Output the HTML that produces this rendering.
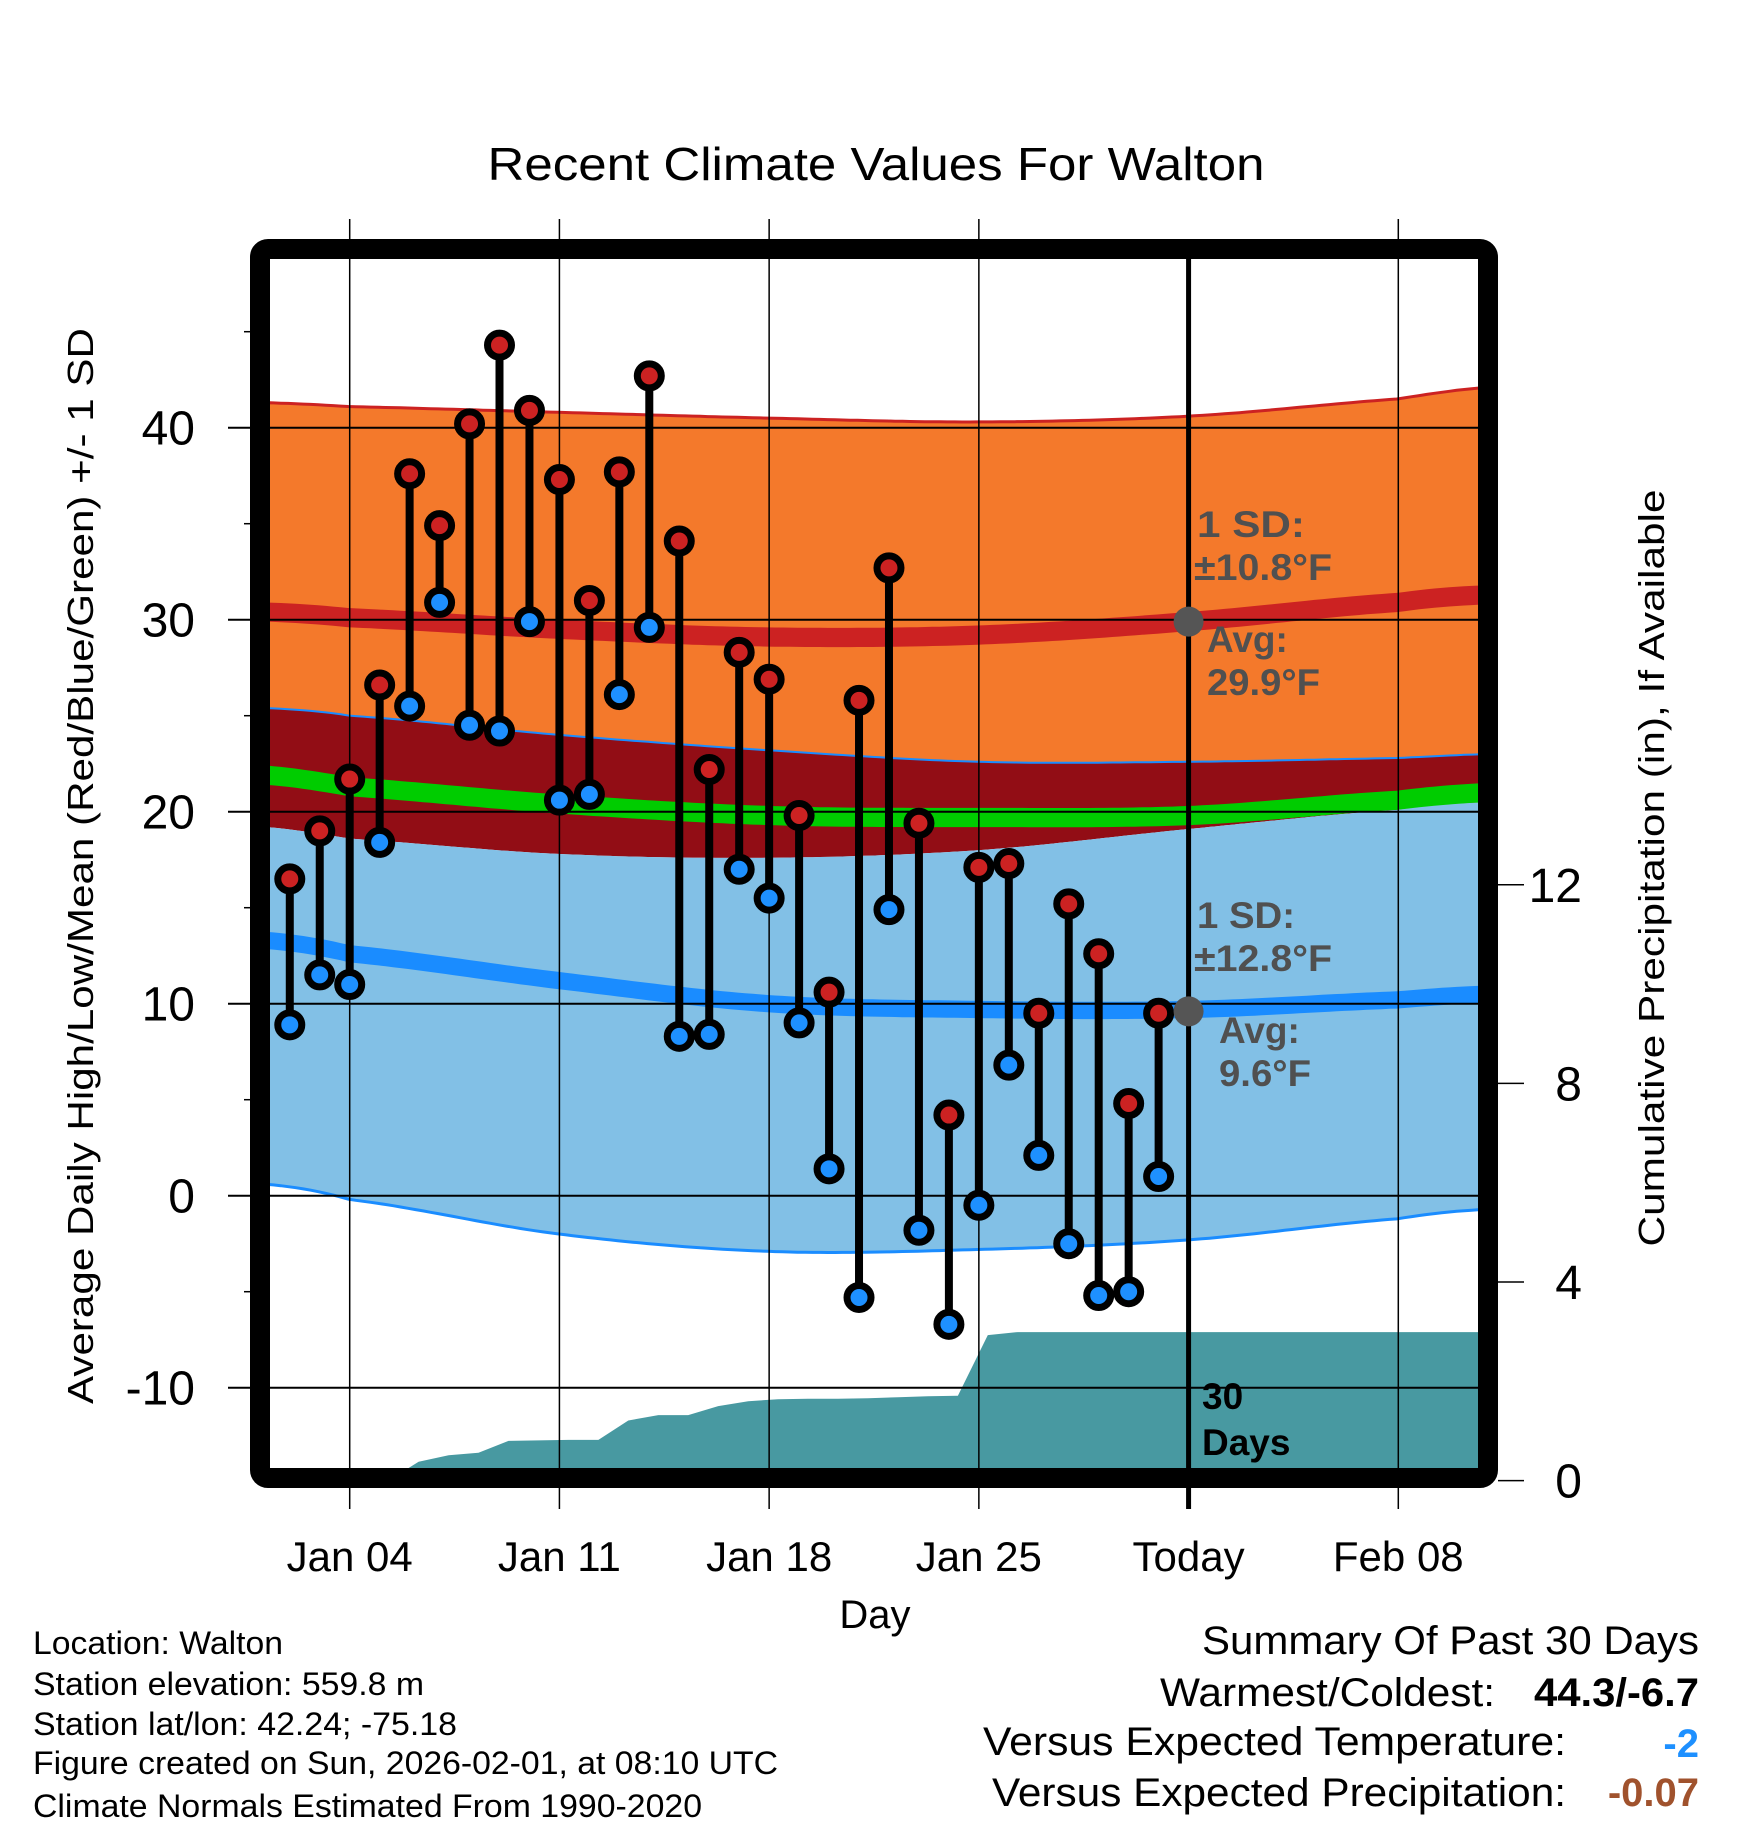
<!DOCTYPE html>
<html><head><meta charset="utf-8"><style>
html,body{margin:0;padding:0;background:#fff;}
svg{display:block;font-family:"Liberation Sans",Arial,sans-serif;}
</style></head><body>
<svg id="chart" width="1748" height="1828" viewBox="0 0 1748 1828" xmlns="http://www.w3.org/2000/svg">
<defs><clipPath id="plotclip"><rect x="270" y="259" width="1208" height="1209"/></clipPath></defs>
<g id="bands" clip-path="url(#plotclip)"></g>
<g id="precip" clip-path="url(#plotclip)"></g>
<g id="grid"></g>
<g id="series"></g>
<rect x="260" y="249" width="1228" height="1229" rx="8" fill="none" stroke="#000" stroke-width="20"/>
<g id="axes"></g>

<text x="876" y="180" font-size="46" text-anchor="middle" textLength="777" lengthAdjust="spacingAndGlyphs">Recent Climate Values For Walton</text>
<text transform="translate(93,866) rotate(-90)" font-size="36" text-anchor="middle" textLength="1076" lengthAdjust="spacingAndGlyphs">Average Daily High/Low/Mean (Red/Blue/Green) +/- 1 SD</text>
<text transform="translate(1664,868) rotate(-90)" font-size="36" text-anchor="middle" textLength="757" lengthAdjust="spacingAndGlyphs">Cumulative Precipitation (in), If Available</text>
<text x="875" y="1628" font-size="40" text-anchor="middle">Day</text>

<g font-size="37" font-weight="bold" fill="#505050">
<text x="1197" y="537" textLength="108" lengthAdjust="spacingAndGlyphs">1 SD:</text>
<text x="1194" y="580" textLength="138" lengthAdjust="spacingAndGlyphs">±10.8°F</text>
<text x="1207" y="652">Avg:</text>
<text x="1207" y="695" textLength="113" lengthAdjust="spacingAndGlyphs">29.9°F</text>
</g>
<g font-size="37" font-weight="bold" fill="#505050">
<text x="1197" y="928" textLength="98" lengthAdjust="spacingAndGlyphs">1 SD:</text>
<text x="1194" y="971" textLength="138" lengthAdjust="spacingAndGlyphs">±12.8°F</text>
<text x="1219" y="1043">Avg:</text>
<text x="1219" y="1086" textLength="92" lengthAdjust="spacingAndGlyphs">9.6°F</text>
</g>
<g font-size="37" font-weight="bold" fill="#000">
<text x="1202" y="1409">30</text>
<text x="1202" y="1455">Days</text>
</g>

<g font-size="32" fill="#000">
<text x="33" y="1654" textLength="250" lengthAdjust="spacingAndGlyphs">Location: Walton</text>
<text x="33" y="1695" textLength="391" lengthAdjust="spacingAndGlyphs">Station elevation: 559.8 m</text>
<text x="33" y="1735" textLength="424" lengthAdjust="spacingAndGlyphs">Station lat/lon: 42.24; -75.18</text>
<text x="33" y="1774" textLength="745" lengthAdjust="spacingAndGlyphs">Figure created on Sun, 2026-02-01, at 08:10 UTC</text>
<text x="33" y="1817" textLength="669" lengthAdjust="spacingAndGlyphs">Climate Normals Estimated From 1990-2020</text>
</g>
<g font-size="40" fill="#000">
<text x="1699" y="1654" text-anchor="end" textLength="497" lengthAdjust="spacingAndGlyphs">Summary Of Past 30 Days</text>
<text x="1495" y="1706" text-anchor="end" textLength="335" lengthAdjust="spacingAndGlyphs">Warmest/Coldest:</text>
<text x="1699" y="1706" text-anchor="end" font-weight="bold" textLength="165" lengthAdjust="spacingAndGlyphs">44.3/-6.7</text>
<text x="1566" y="1755" text-anchor="end" textLength="583" lengthAdjust="spacingAndGlyphs">Versus Expected Temperature:</text>
<text x="1699" y="1757" text-anchor="end" font-weight="bold" fill="#1e90ff">-2</text>
<text x="1566" y="1806" text-anchor="end" textLength="574" lengthAdjust="spacingAndGlyphs">Versus Expected Precipitation:</text>
<text x="1699" y="1806" text-anchor="end" font-weight="bold" fill="#a0522d">-0.07</text>
</g>
</svg>
<script>
// ---- data ----
const dayNums = [2,3,4,5,6,7,8,9,10,11,12,13,14,15,16,17,18,19,20,21,22,23,24,25,26,27,28,29,30,31];
const highs = [16.5,19.0,21.7,26.6,37.6,34.9,40.2,44.3,40.9,37.3,31.0,37.7,42.7,34.1,22.2,28.3,26.9,19.8,10.6,25.8,32.7,19.4,4.2,17.1,17.3,9.5,15.2,12.6,4.8,9.5];
const lows = [8.9,11.5,11.0,18.4,25.5,30.9,24.5,24.2,29.9,20.6,20.9,26.1,29.6,8.3,8.4,17.0,15.5,9.0,1.4,-5.3,14.9,-1.8,-6.7,-0.5,6.8,2.1,-2.5,-5.2,-5.0,1.0];
const precipCum = [0,0,0,0,0.38,0.51,0.56,0.80,0.81,0.82,0.82,1.21,1.32,1.32,1.50,1.60,1.64,1.65,1.65,1.66,1.68,1.70,1.71,2.93,2.99,2.99,2.99,2.99,2.99,2.99];
const normDays = [1.2,4,11,18,25,32,39,42];
const normHiUpper = [41.3,41.1,40.8,40.5,40.3,40.6,41.5,42.1];
const normHiAvg = [30.4,30.1,29.5,29.1,29.2,29.9,30.9,31.3];
const normHiLower = [25.4,25.0,24.0,23.2,22.6,22.6,22.8,23.0];
const normMean = [21.9,21.3,20.4,19.8,19.7,19.8,20.6,21.0];
const normLoUpper = [19.2,18.6,17.8,17.6,18.0,19.1,20.1,20.5];
const normLoAvg = [13.3,12.6,11.2,10.0,9.7,9.7,10.2,10.5];
const normLoLower = [0.6,-0.2,-2.0,-2.9,-2.8,-2.3,-1.2,-0.7];
const xTickDays = [4,11,18,25,32,39];
const xTickLabels = ["Jan 04","Jan 11","Jan 18","Jan 25","Today","Feb 08"];
const yTicks = [-10,0,10,20,30,40];
const yMinorTicks = [-5,5,15,25,35,45];
const y2Ticks = [0,4,8,12];
const todayDay = 32;
const todayHiAvg = 29.9, todayLoAvg = 9.6;

// ---- scales ----
const X = d => 349.7 + (d - 4) * 29.96;
const Y = v => 427.7 + (40 - v) * 19.2;
const Y2 = p => 1480.6 - p * 49.65;
const NS = "http://www.w3.org/2000/svg";
function mk(tag, attrs, parent){const e=document.createElementNS(NS,tag);for(const k in attrs)e.setAttribute(k,attrs[k]);parent.appendChild(e);return e;}

function interp(xs, ys, x){ // catmull-rom
  let i=0; while(i<xs.length-2 && x>xs[i+1]) i++;
  const t=(x-xs[i])/(xs[i+1]-xs[i]);
  const p0=ys[Math.max(i-1,0)],p1=ys[i],p2=ys[i+1],p3=ys[Math.min(i+2,ys.length-1)];
  const t2=t*t,t3=t2*t;
  return 0.5*((2*p1)+(-p0+p2)*t+(2*p0-5*p1+4*p2-p3)*t2+(-p0+3*p1-3*p2+p3)*t3);
}
const samples=[]; for(let d=normDays[0]; d<=normDays[normDays.length-1]+0.001; d+=0.25) samples.push(d);
function curve(arr, off){return samples.map(d=>[X(d),Y(interp(normDays,arr,d)+(off||0))]);}
function bandPath(topPts, botPts){
  const pts=topPts.concat(botPts.slice().reverse());
  return "M"+pts.map(p=>p[0].toFixed(1)+","+p[1].toFixed(1)).join("L")+"Z";
}
function linePath(pts){return "M"+pts.map(p=>p[0].toFixed(1)+","+p[1].toFixed(1)).join("L");}

const bands=document.getElementById('bands');
let e;
e=mk('path',{d:bandPath(curve(normHiUpper),curve(normHiLower)),fill:'#f4792b'},bands);


e=mk('path',{d:bandPath(curve(normHiLower),curve(normLoUpper)),fill:'#920d15'},bands);


e=mk('path',{d:bandPath(curve(normLoUpper),curve(normLoLower)),fill:'#82c0e6'},bands);


e=mk('path',{d:bandPath(curve(normMean,0.5),curve(normMean,-0.5)),fill:'#00cc00'},bands);


e=mk('path',{d:bandPath(curve(normHiAvg,0.5),curve(normHiAvg,-0.5)),fill:'#cc2222'},bands);


e=mk('path',{d:bandPath(curve(normLoAvg,0.45),curve(normLoAvg,-0.45)),fill:'#1a8cff'},bands);


e=mk('path',{d:linePath(curve(normHiUpper)),fill:'none',stroke:'#cc2222','stroke-width':3},bands);


e=mk('path',{d:linePath(curve(normHiLower)),fill:'none',stroke:'#1a8cff','stroke-width':2},bands);


e=mk('path',{d:linePath(curve(normLoLower)),fill:'none',stroke:'#1a8cff','stroke-width':3},bands);



// precipitation
const pg=document.getElementById('precip');
let pts=[[X(1),Y2(0)]];
dayNums.forEach((d,i)=>pts.push([X(d+0.3),Y2(precipCum[i])]));
pts.push([X(43),Y2(precipCum[precipCum.length-1])]);
pts.push([X(43),Y2(-1)]); pts.push([X(1),Y2(-1)]);
e=mk('path',{d:"M"+pts.map(p=>p[0].toFixed(1)+","+p[1].toFixed(1)).join("L")+"Z",fill:'#4899a1'},pg);



// grid
const grid=document.getElementById('grid');
yTicks.forEach(v=>{
  e=mk('line',{x1:228,x2:1478,y1:Y(v),y2:Y(v),stroke:'#000','stroke-width':2},grid);
  
  
});
xTickDays.forEach(d=>{
  const isToday=d===todayDay;
  e=mk('line',{x1:X(d),x2:X(d),y1:isToday?259:219,y2:1509,stroke:'#000','stroke-width':isToday?5:1.5},grid);
  
  
});

// series
const sg=document.getElementById('series');
dayNums.forEach((d,i)=>{
  const x=X(d);
  e=mk('line',{x1:x,x2:x,y1:Y(highs[i]),y2:Y(lows[i]),stroke:'#000','stroke-width':8},sg);
  
  
});
dayNums.forEach((d,i)=>{
  const x=X(d);
  e=mk('circle',{cx:x,cy:Y(highs[i]),r:12,fill:'#cc2222',stroke:'#000','stroke-width':7},sg);
  
  
  e=mk('circle',{cx:x,cy:Y(lows[i]),r:12,fill:'#1e90ff',stroke:'#000','stroke-width':7},sg);
  
  
});
e=mk('circle',{cx:X(todayDay),cy:Y(todayHiAvg),r:15,fill:'#555'},sg);


e=mk('circle',{cx:X(todayDay),cy:Y(todayLoAvg),r:15,fill:'#555'},sg);



// axes labels
const ax=document.getElementById('axes');
yTicks.forEach(v=>{
  e=mk('text',{x:195,y:Y(v)+17,'font-size':48,'text-anchor':'end'},ax);
  e.textContent=String(v);
  
  
});
yMinorTicks.forEach(v=>{
  e=mk('line',{x1:244,x2:252,y1:Y(v),y2:Y(v),stroke:'#000','stroke-width':1.5},ax);
  
  
});
y2Ticks.forEach(p=>{
  e=mk('line',{x1:1498,x2:1524,y1:Y2(p),y2:Y2(p),stroke:'#000','stroke-width':1.5},ax);
  
  
  e=mk('text',{x:1582,y:Y2(p)+17,'font-size':48,'text-anchor':'end'},ax);
  e.textContent=String(p);
  
  
});
xTickDays.forEach((d,i)=>{
  e=mk('text',{x:X(d),y:1571,'font-size':42,'text-anchor':'middle'},ax);
  e.textContent=xTickLabels[i];
  
  
});
</script>
</body></html>
